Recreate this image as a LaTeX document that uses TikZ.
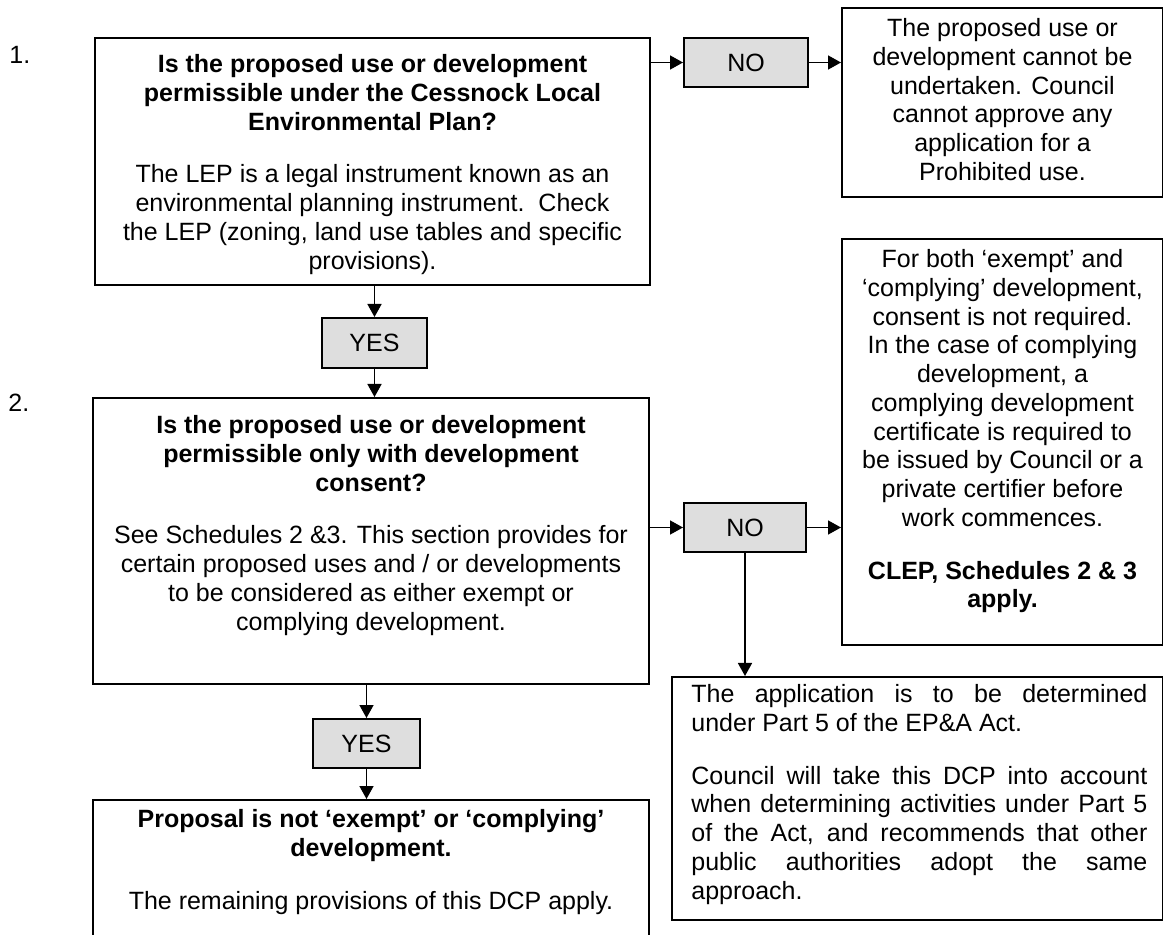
\documentclass[tikz,border=0pt]{standalone}
\usepackage{fontspec}
\setmainfont{Liberation Sans}
\usetikzlibrary{arrows.meta,calc}
\definecolor{choicegray}{RGB}{222,222,222}
\begin{document}
\begin{tikzpicture}[x=0.5pt,y=-0.5pt,
  every node/.style={font=\fontsize{12.5pt}{14.375pt}\selectfont},
  frame/.style={draw=black,line width=1pt,anchor=north west,inner sep=0pt},
  choice/.style={draw=black,line width=1pt,anchor=north west,inner sep=0pt,fill=choicegray},
  txt/.style={inner sep=0pt,align=center},
  arr/.style={line width=0.8pt,-{Triangle[length=6.5pt,width=7pt]}},
  link/.style={line width=0.8pt}]
\useasboundingbox (0,0) rectangle (1163,935);

% frames
\node[frame,minimum width=277.5pt,minimum height=123.5pt] (b1) at (94,37) {};
\node[choice,minimum width=62pt,minimum height=24.5pt] (no1) at (683,37) {};
\node[frame,minimum width=160.5pt,minimum height=94.5pt] (r1) at (841,7) {};
\node[choice,minimum width=52.5pt,minimum height=25pt] (yes1) at (321,317) {};
\node[frame,minimum width=278pt,minimum height=143pt] (b2) at (92,397) {};
\node[choice,minimum width=61pt,minimum height=24.5pt] (no2) at (683,502) {};
\node[frame,minimum width=160.5pt,minimum height=203pt] (r2) at (841,238) {};
\node[choice,minimum width=53.5pt,minimum height=24.5pt] (yes2) at (312,718) {};
\node[frame,minimum width=278pt,minimum height=75pt] (b3) at (92,799) {};
\node[frame,minimum width=245.5pt,minimum height=121.5pt] (b4) at (671,676) {};

% step numbers
\node[anchor=west,inner sep=0pt] (n1) at (9,55) {1.};
\node[anchor=west,inner sep=0pt] (n2) at (8,403) {2.};

% choice labels
\node[txt] (no1t) at (no1.center) {NO};
\node[txt] (no2t) at (no2.center) {NO};
\node[txt] (yes1t) at (yes1.center) {YES};
\node[txt] (yes2t) at (yes2.center) {YES};

% texts
\node[txt,anchor=north] (t1) at ([yshift=-8.5pt]b1.north)
 {\textbf{Is the proposed use or development}\\
  \textbf{permissible under the Cessnock Local}\\
  \textbf{Environmental Plan?}\\[12pt]
  The LEP is a legal instrument known as an\\
  environmental planning instrument.\ \ Check\\
  the LEP (zoning, land use tables and specific\\
  provisions).};

\node[txt,anchor=north] (tr1) at ([yshift=-5.5pt]r1.north)
 {The proposed use or\\
  development cannot be\\
  undertaken. Council\\
  cannot approve any\\
  application for a\\
  Prohibited use.};

\node[txt,anchor=north] (t2) at ([yshift=-9pt]b2.north)
 {\textbf{Is the proposed use or development}\\
  \textbf{permissible only with development}\\
  \textbf{consent?}\\[12pt]
  See Schedules 2 \&3. This section provides for\\
  certain proposed uses and / or developments\\
  to be considered as either exempt or\\
  complying development.};

\node[txt,anchor=north] (tr2) at ([yshift=-5.5pt]r2.north)
 {For both ‘exempt’ and\\
  ‘complying’ development,\\
  consent is not required.\\
  In the case of complying\\
  development, a\\
  complying development\\
  certificate is required to\\
  be issued by Council or a\\
  private certifier before\\
  work commences.\\[12pt]
  \textbf{CLEP, Schedules 2 \& 3}\\
  \textbf{apply.}};

\node[txt,anchor=north] (t3) at ([yshift=-5pt]b3.north)
 {\textbf{Proposal is not ‘exempt’ or ‘complying’}\\
  \textbf{development.}\\[12pt]
  The remaining provisions of this DCP apply.};

\node[inner sep=0pt,align=left,anchor=north west] (t4) at ([xshift=10pt,yshift=-4pt]b4.north west)
 {\makebox[228pt][s]{The application is to be determined}\\
  under Part 5 of the EP\&A Act.\\[12pt]
  \makebox[228pt][s]{Council will take this DCP into account}\\
  \makebox[228pt][s]{when determining activities under Part 5}\\
  \makebox[228pt][s]{of the Act, and recommends that other}\\
  \makebox[228pt][s]{public authorities adopt the same}\\
  approach.};

% connectors
\draw[arr] (b1.east |- no1.west) -- (no1.west);
\draw[arr] (no1.east) -- (r1.west |- no1.east);
\draw[arr] (b1.south -| yes1.north) -- (yes1.north);
\draw[arr] (yes1.south) -- (yes1.south |- b2.north);
\draw[arr] (b2.east |- no2.west) -- (no2.west);
\draw[arr] (no2.east) -- (r2.west |- no2.east);
\draw[arr] (no2.south) -- (no2.south |- b4.north);
\draw[arr] (b2.south -| yes2.north) -- (yes2.north);
\draw[arr] (yes2.south) -- (yes2.south |- b3.north);
\end{tikzpicture}
\end{document}
